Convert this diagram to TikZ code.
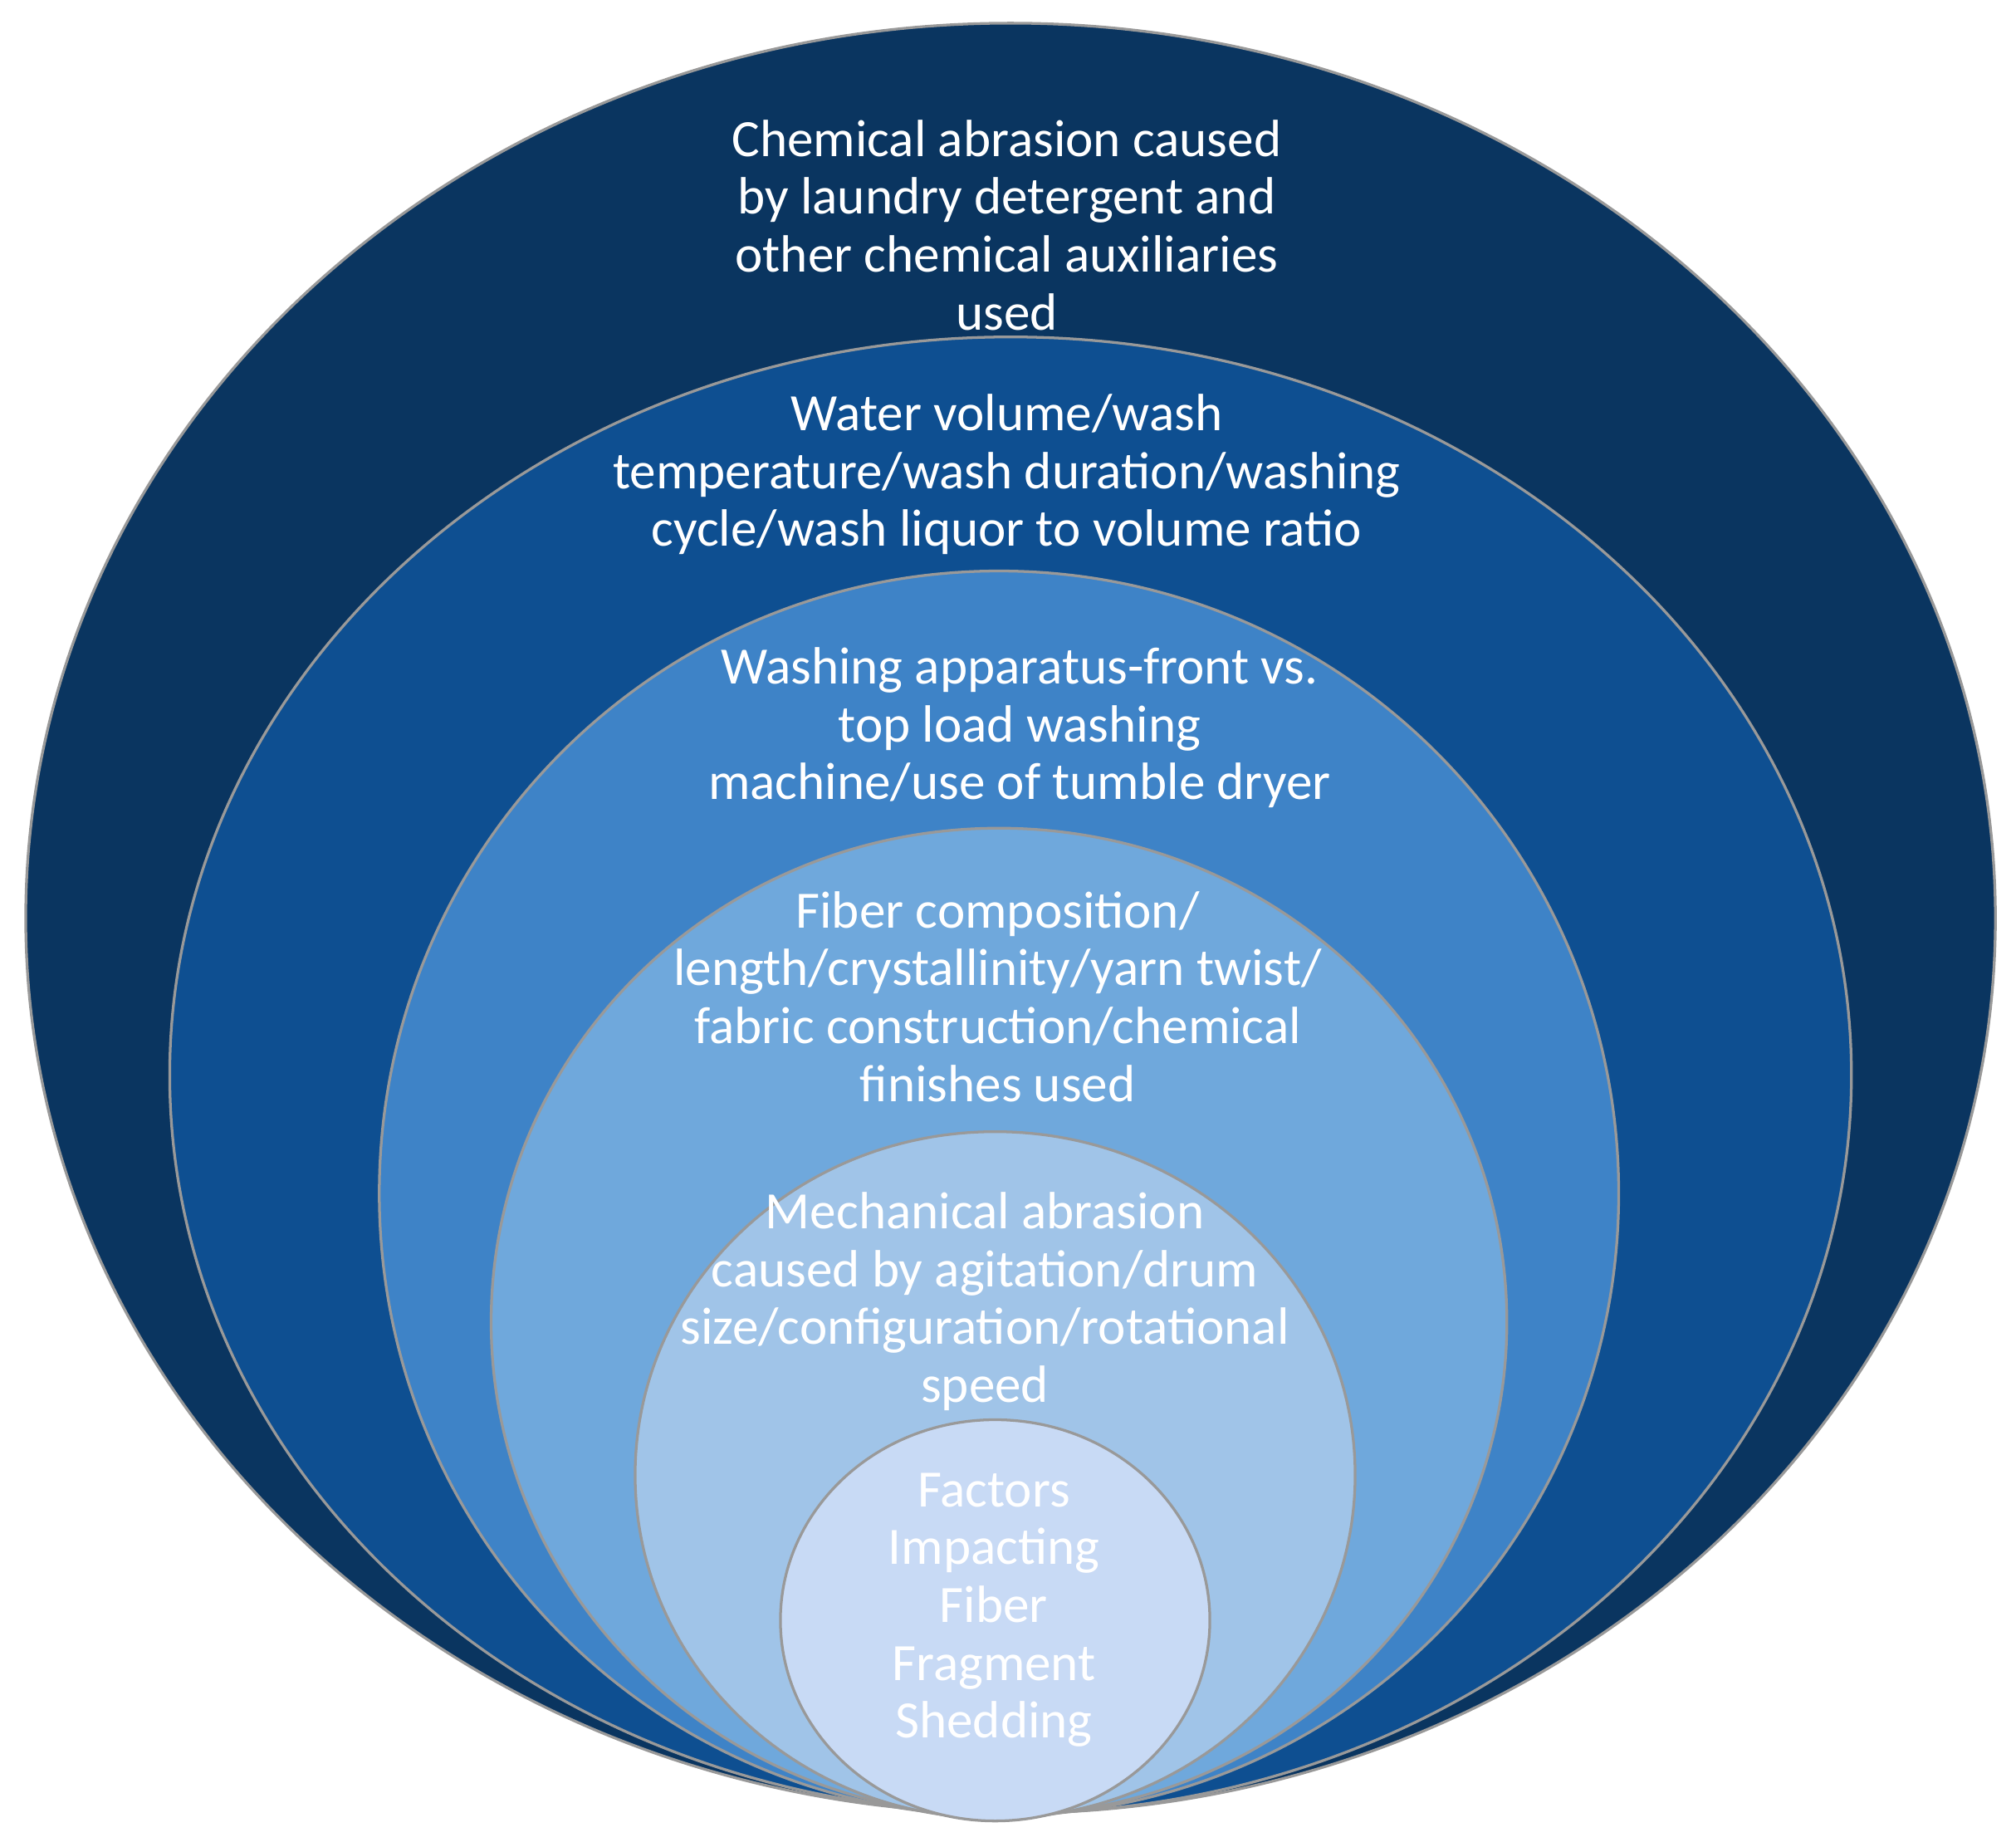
\documentclass[tikz,border=0pt]{standalone}
\usepackage{fontspec}
\setmainfont{Carlito}
\begin{document}
\begin{tikzpicture}[x=0.01cm,y=-0.01cm,
  lbl/.style={text=white,align=center,font=\fontsize{11.6}{12.8}\selectfont},
  ring/.style={draw=black!40,line width=0.6pt}]
\useasboundingbox (0,0) rectangle (1568,1436);
\fill[ring,fill={rgb,255:red,10;green,53;blue,96}] (786,714) ellipse [x radius=766,y radius=696];
\fill[ring,fill={rgb,255:red,14;green,79;blue,145}] (786,836) ellipse [x radius=654,y radius=574];
\fill[ring,fill={rgb,255:red,62;green,131;blue,199}] (777,928) ellipse [x radius=482,y radius=484];
\fill[ring,fill={rgb,255:red,111;green,168;blue,220}] (777,1028) ellipse [x radius=395,y radius=384];
\fill[ring,fill={rgb,255:red,160;green,196;blue,232}] (774,1147) ellipse [x radius=280,y radius=267];
\fill[ring,fill={rgb,255:red,200;green,218;blue,245}] (774,1260) ellipse [x radius=167,y radius=156];
\node[lbl] (t1) at (783,175) {Chemical abrasion caused\\by laundry detergent and\\other chemical auxiliaries\\used};
\node[lbl] (t2) at (783,369) {Water volume/wash\\temperature/wash duration/washing\\cycle/wash liquor to volume ratio};
\node[lbl] (t3) at (793,566) {Washing apparatus-front vs.\\top load washing\\machine/use of tumble dryer};
\node[lbl] (t4) at (776,775) {Fiber composition/\\length/crystallinity/yarn twist/\\fabric construction/chemical\\finishes used};
\node[lbl] (t5) at (766,1012) {Mechanical abrasion\\caused by agitation/drum\\size/configuration/rotational\\speed};
\node[lbl] (t6) at (773,1252) {Factors\\Impacting\\Fiber\\Fragment\\Shedding};
\end{tikzpicture}
\end{document}
